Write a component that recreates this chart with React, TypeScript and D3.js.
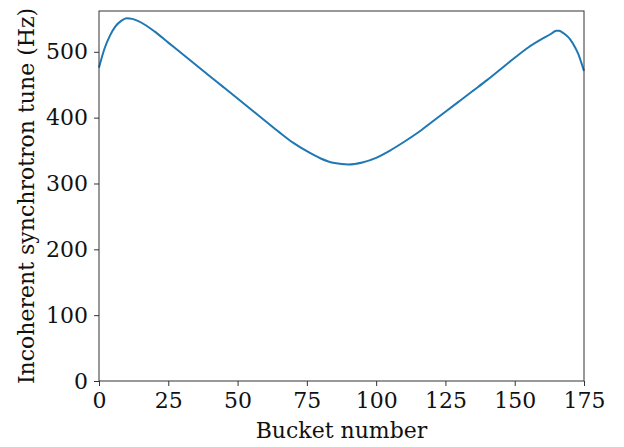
import React, { useEffect, useRef } from "react";
import * as d3 from "d3";

// bucket numbers and incoherent synchrotron tune (Hz)
const buckets = [0, 2, 4, 6, 8, 10, 12, 14, 17, 20, 25, 30, 35, 40, 45, 50, 55, 60, 65, 70, 75, 80, 85, 90, 95, 100, 105, 110, 115, 120, 125, 130, 135, 140, 145, 150, 155, 160, 163, 164, 165, 166, 167, 168, 170, 172, 173, 174, 175];
const tunes = [476, 505, 525, 539, 547, 551, 550, 547, 540, 531, 514, 497, 480, 463, 446, 429, 412, 395, 378, 362, 349, 338, 331, 329, 332, 339, 350, 363, 377, 393, 409, 425, 441, 457, 474, 491, 507, 520, 527, 530, 532, 532, 530, 527, 519, 505, 496, 484, 471];

const xTicks = [0, 25, 50, 75, 100, 125, 150, 175];
const yTicks = [0, 100, 200, 300, 400, 500];

const App = () => {
  const ref = useRef<SVGSVGElement>(null);

  useEffect(() => {
    const svg = d3.select(ref.current);
    svg.selectAll("*").remove();

    const margin = { top: 11, right: 40, bottom: 66, left: 99 };
    const W = 624, H = 447;
    const w = W - margin.left - margin.right;
    const h = H - margin.top - margin.bottom;
    const font = "'DejaVu Serif', serif";
    const fs = 22;

    const g = svg.append("g").attr("transform", `translate(${margin.left},${margin.top})`);

    const x = d3.scaleLinear().domain([0, 175]).range([0, w]);
    const y = d3.scaleLinear().domain([0, 562]).range([h, 0]);

    const data = buckets.map((b, i) => ({ b, t: tunes[i] }));

    const line = d3.line<{ b: number; t: number }>()
      .x(d => x(d.b))
      .y(d => y(d.t))
      .curve(d3.curveMonotoneX);

    g.append("path")
      .datum(data)
      .attr("d", line)
      .attr("fill", "none")
      .attr("stroke", "#1f77b4")
      .attr("stroke-width", 2);

    // frame
    g.append("rect")
      .attr("x", 0).attr("y", 0).attr("width", w).attr("height", h)
      .attr("fill", "none").attr("stroke", "#333").attr("stroke-width", 1);

    // x axis
    const xa = g.append("g").attr("transform", `translate(0,${h})`)
      .call(d3.axisBottom(x).tickValues(xTicks).tickSize(5).tickPadding(6));
    xa.select(".domain").remove();
    xa.selectAll("line").attr("stroke", "#333");
    xa.selectAll("text").attr("font-family", font).attr("font-size", fs).attr("fill", "#111");

    // y axis
    const ya = g.append("g")
      .call(d3.axisLeft(y).tickValues(yTicks).tickSize(5).tickPadding(6));
    ya.select(".domain").remove();
    ya.selectAll("line").attr("stroke", "#333");
    ya.selectAll("text").attr("font-family", font).attr("font-size", fs).attr("fill", "#111");

    // x axis label
    g.append("text")
      .attr("x", w / 2)
      .attr("y", h + 57)
      .attr("text-anchor", "middle")
      .attr("font-family", font)
      .attr("font-size", fs)
      .attr("fill", "#111")
      .text("Bucket number");

    // y axis title
    g.append("text")
      .attr("transform", "rotate(-90)")
      .attr("x", -h / 2)
      .attr("y", -margin.left + 34)
      .attr("text-anchor", "middle")
      .attr("font-family", font)
      .attr("font-size", fs)
      .attr("fill", "#111")
      .text("Incoherent synchrotron tune (Hz)");
  }, []);

  return (
    <svg ref={ref} width={624} height={447}
      style={{ position: "absolute", left: 0, top: 0, background: "#fff" }} />
  );
};

export default App;
